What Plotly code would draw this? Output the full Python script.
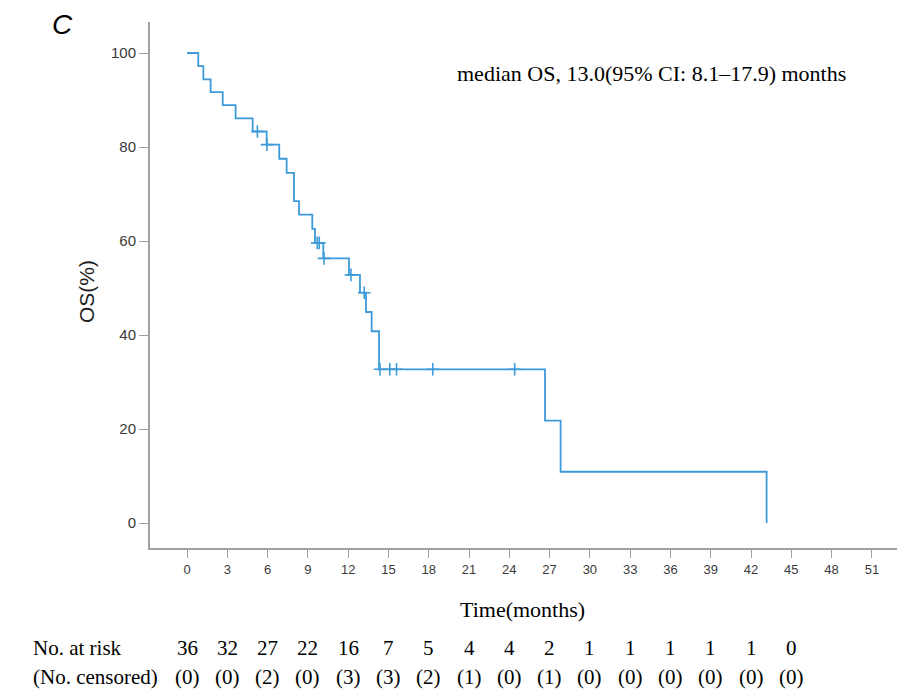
import plotly.graph_objects as go

# Kaplan-Meier steps (time of drop in months, OS % after drop)
step_times = [0, 0.84, 1.22, 1.76, 2.66, 3.62, 4.89, 5.93, 6.87, 7.42, 7.97, 8.34,
              9.33, 9.53, 10.15, 12.06, 12.88, 13.33, 13.75, 14.30, 26.66, 27.82, 43.16]
step_surv = [100, 97.2, 94.4, 91.7, 88.9, 86.1, 83.3, 80.5, 77.5, 74.5, 68.5, 65.6,
             62.6, 59.6, 56.3, 52.8, 49.0, 44.9, 40.8, 32.7, 21.8, 10.9, 0]

# Censored observations
cens_times = [5.24, 5.95, 9.70, 9.85, 10.20, 12.21, 13.20, 14.37, 15.10, 15.60, 18.30, 24.40]
cens_surv = [83.3, 80.5, 59.6, 59.6, 56.3, 52.8, 49.0, 32.7, 32.7, 32.7, 32.7, 32.7]

x_ticks = [0, 3, 6, 9, 12, 15, 18, 21, 24, 27, 30, 33, 36, 39, 42, 45, 48, 51]
y_ticks = [0, 20, 40, 60, 80, 100]

risk_times = [0, 3, 6, 9, 12, 15, 18, 21, 24, 27, 30, 33, 36, 39, 42, 45]
at_risk = [36, 32, 27, 22, 16, 7, 5, 4, 4, 2, 1, 1, 1, 1, 1, 0]
censored = [0, 0, 2, 0, 3, 3, 2, 1, 0, 1, 0, 0, 0, 0, 0, 0]

BLUE = "#3d9ad9"
SERIF = "Liberation Serif"
SANS = "Liberation Sans"

# plot area in page pixels: x 150..897, y 22..548 (figure sits 8px inside page)
PX0, PX1, PY0, PY1 = 150, 897, 22, 548
def px(xp):
    return (xp - PX0) / (PX1 - PX0)
def py(yp):
    return (PY1 - yp) / (PY1 - PY0)

fig = go.Figure()
fig.add_trace(go.Scatter(x=step_times, y=step_surv, mode="lines",
                         line=dict(shape="hv", color=BLUE, width=1.8),
                         showlegend=False, hoverinfo="skip"))
fig.add_trace(go.Scatter(x=cens_times, y=cens_surv, mode="markers",
                         marker=dict(symbol="cross-thin", size=9,
                                     line=dict(color=BLUE, width=1.6)),
                         showlegend=False, hoverinfo="skip"))

fig.update_layout(
    width=904, height=684,
    margin=dict(l=142, r=15, t=14, b=144),
    paper_bgcolor="white", plot_bgcolor="white",
    xaxis=dict(range=[-2.755, 52.87], tickmode="array", tickvals=x_ticks,
               ticktext=[str(v) for v in x_ticks],
               showgrid=False, zeroline=False, showline=True, linecolor="#a0a0a0",
               linewidth=2, ticks="outside", ticklen=8, tickcolor="#a0a0a0",
               tickwidth=1, tickfont=dict(family=SANS, size=13, color="#3a3a3a"),
               fixedrange=True),
    yaxis=dict(range=[-5.32, 106.6], tickmode="array", tickvals=y_ticks,
               ticktext=[str(v) for v in y_ticks],
               showgrid=False, zeroline=False, showline=True, linecolor="#a0a0a0",
               linewidth=2, ticks="outside", ticklen=9, tickcolor="#a0a0a0",
               tickwidth=1, tickfont=dict(family=SANS, size=15, color="#3a3a3a"),
               fixedrange=True),
)

ann = []
ann.append(dict(text="<i>C</i>", x=px(62), y=py(25), xref="paper", yref="paper",
                showarrow=False, xanchor="center", yanchor="middle",
                font=dict(family=SANS, size=28, color="black")))
ann.append(dict(text="median OS, 13.0(95% CI: 8.1\u201317.9) months", x=px(455), y=py(73),
                xref="paper", yref="paper", showarrow=False, xanchor="left",
                yanchor="middle", font=dict(family=SERIF, size=22, color="black")))
ann.append(dict(text="OS(%)", x=px(86), y=py(292), xref="paper", yref="paper",
                showarrow=False, textangle=-90, xanchor="center", yanchor="middle",
                font=dict(family=SANS, size=21, color="#222")))
ann.append(dict(text="Time(months)", x=px(522), y=py(609), xref="paper", yref="paper",
                showarrow=False, xanchor="center", yanchor="middle",
                font=dict(family=SERIF, size=22, color="black")))
ann.append(dict(text="No. at risk", x=px(31), y=py(648), xref="paper", yref="paper",
                showarrow=False, xanchor="left", yanchor="middle",
                font=dict(family=SERIF, size=21, color="black")))
ann.append(dict(text="(No. censored)", x=px(31), y=py(677), xref="paper",
                yref="paper", showarrow=False, xanchor="left", yanchor="middle",
                font=dict(family=SERIF, size=21, color="black")))
for t, r, c in zip(risk_times, at_risk, censored):
    ann.append(dict(text=str(r), x=t, y=py(648), xref="x", yref="paper",
                    showarrow=False, xanchor="center", yanchor="middle",
                    font=dict(family=SERIF, size=21, color="black")))
    ann.append(dict(text=f"({c})", x=t, y=py(677), xref="x", yref="paper",
                    showarrow=False, xanchor="center", yanchor="middle",
                    font=dict(family=SERIF, size=21, color="black")))
fig.update_layout(annotations=ann)

fig.write_html("out.html")
